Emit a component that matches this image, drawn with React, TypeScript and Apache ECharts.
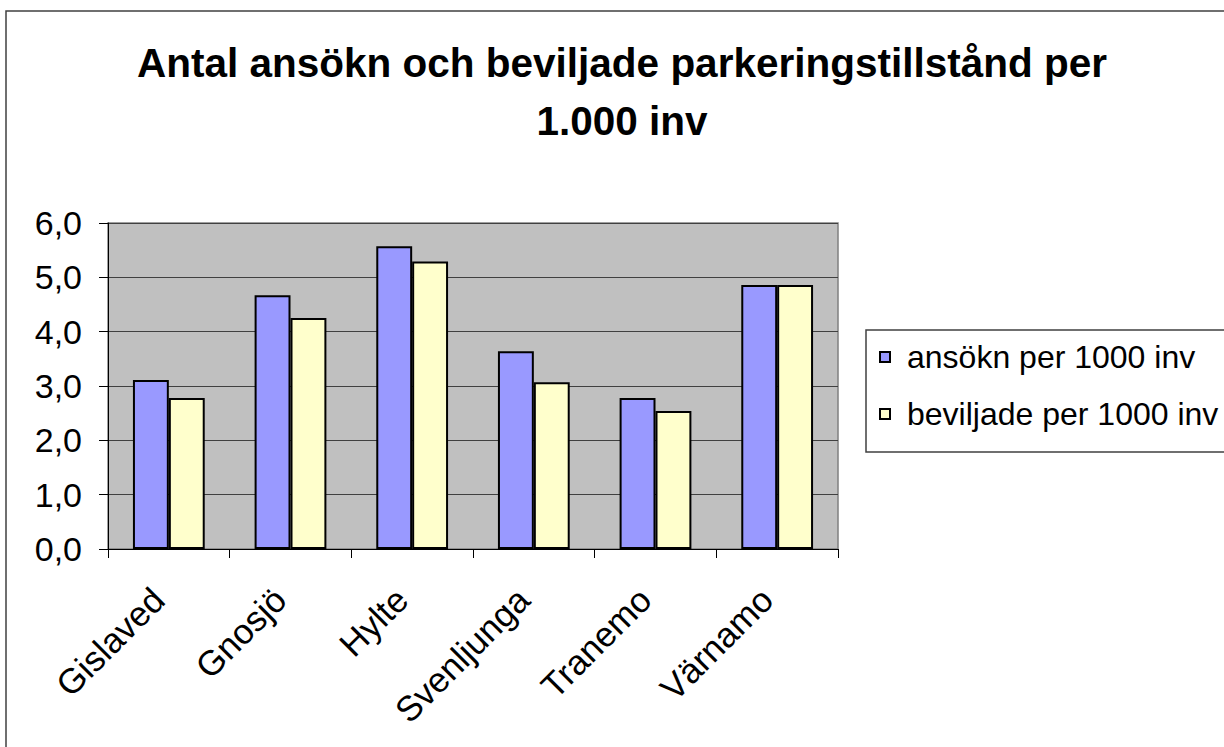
import React, { useEffect, useRef } from "react";
import * as echarts from "echarts";

const categories = ["Gislaved", "Gnosjö", "Hylte", "Svenljunga", "Tranemo", "Värnamo"];
const ansoknValues = [3.11, 4.67, 5.57, 3.64, 2.78, 4.86];
const beviljadeValues = [2.78, 4.25, 5.29, 3.07, 2.54, 4.86];
const seriesNames = ["ansökn per 1000 inv", "beviljade per 1000 inv"];
const titleText = "Antal ansökn och beviljade parkeringstillstånd per\n1.000 inv";

const FONT = "'Liberation Sans', Arial, sans-serif";

export default function App() {
  const ref = useRef<HTMLDivElement>(null);
  useEffect(() => {
    if (!ref.current) return;
    const chart = echarts.init(ref.current, null, { renderer: "svg" });
    chart.setOption({
      animation: false,
      backgroundColor: "#ffffff",
      textStyle: { fontFamily: FONT },
      graphic: [
        {
          type: "rect",
          shape: { x: 6, y: 11, width: 1240, height: 760 },
          style: { fill: "none", stroke: "#404040", lineWidth: 1.5 },
          silent: true,
          z: -1,
        },
        {
          type: "text",
          x: 622,
          y: 34,
          style: {
            text: titleText,
            fontFamily: FONT,
            fontSize: 40.5,
            fontWeight: "bold",
            lineHeight: 58,
            textAlign: "center",
            fill: "#000",
          },
        },
      ],
      legend: {
        orient: "vertical",
        left: 866,
        top: 330,
        padding: [11, 20, 22, 13],
        itemGap: 25,
        itemWidth: 10,
        itemHeight: 10,
        icon: "rect",
        borderColor: "#404040",
        borderWidth: 1.5,
        backgroundColor: "#ffffff",
        textStyle: {
          fontFamily: FONT,
          fontSize: 32,
          lineHeight: 30,
          color: "#000",
          padding: [0, 0, 0, 12],
        },
        data: seriesNames,
      },
      grid: {
        left: 108,
        right: 386,
        top: 223,
        bottom: 198,
        show: true,
        backgroundColor: "#C0C0C0",
        borderColor: "#808080",
        borderWidth: 1.5,
      },
      xAxis: {
        type: "category",
        data: categories,
        axisLine: { show: true, lineStyle: { color: "#000", width: 1 } },
        axisTick: { show: true, length: 9, lineStyle: { color: "#000" } },
        axisLabel: {
          rotate: 45,
          margin: 34,
          fontFamily: FONT,
          fontSize: 35,
          color: "#000",
          interval: 0,
          padding: [0, 15, 29, 0],
        },
      },
      yAxis: {
        type: "value",
        min: 0,
        max: 6,
        interval: 1,
        axisLine: { show: true, lineStyle: { color: "#000", width: 1 } },
        axisTick: { show: true, inside: false, length: 9, lineStyle: { color: "#000" } },
        splitLine: { show: true, lineStyle: { color: "#404040", width: 1 } },
        axisLabel: {
          margin: 26,
          fontFamily: FONT,
          fontSize: 34,
          color: "#000",
          formatter: (v: number) => v.toFixed(1).replace(".", ","),
        },
      },
      series: [
        {
          name: seriesNames[0],
          type: "bar",
          data: ansoknValues,
          barGap: "0%",
          barCategoryGap: "41%",
          itemStyle: { color: "#9999FF", borderColor: "#000", borderWidth: 2 },
        },
        {
          name: seriesNames[1],
          type: "bar",
          data: beviljadeValues,
          barGap: "0%",
          barCategoryGap: "41%",
          itemStyle: { color: "#FFFFCC", borderColor: "#000", borderWidth: 2 },
        },
      ],
    });
    return () => chart.dispose();
  }, []);
  return (
    <div
      ref={ref}
      style={{ position: "fixed", left: 0, top: 0, width: 1224, height: 747 }}
    />
  );
}
